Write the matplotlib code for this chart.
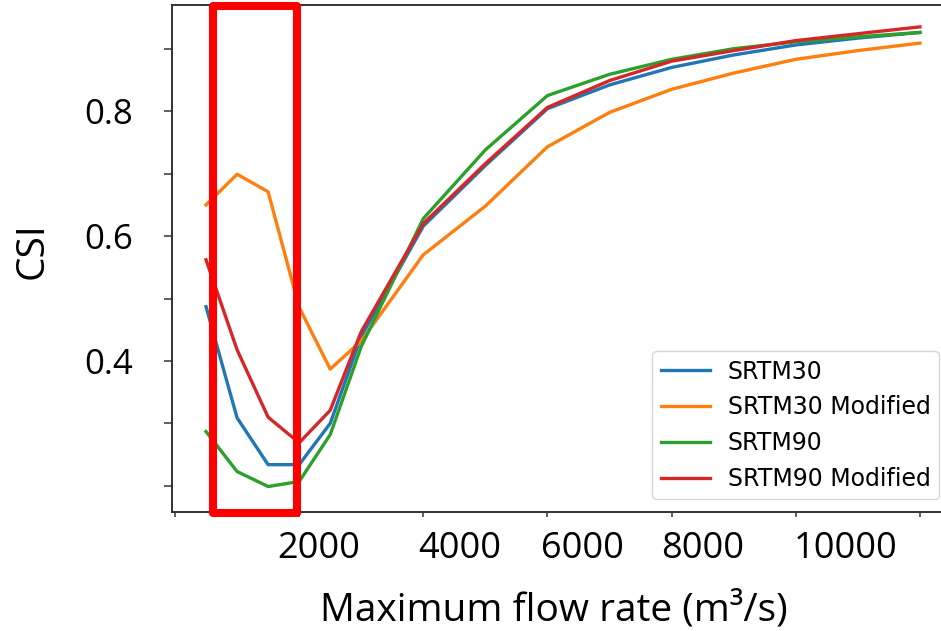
import matplotlib
matplotlib.use("Agg")
import matplotlib.pyplot as plt
from matplotlib.patches import Rectangle

# ---------------- data ----------------
flow = [500, 1000, 1500, 2000, 2500, 3000, 4000, 5000, 6000, 7000, 8000, 9000, 10000, 11000, 12000]
srtm30 = [0.487, 0.309, 0.234, 0.234, 0.300, 0.439, 0.616, 0.713, 0.804, 0.842, 0.870, 0.890, 0.906, 0.917, 0.926]
srtm30_mod = [0.650, 0.699, 0.671, 0.486, 0.387, 0.432, 0.570, 0.648, 0.743, 0.798, 0.835, 0.861, 0.883, 0.897, 0.909]
srtm90 = [0.287, 0.223, 0.199, 0.207, 0.282, 0.423, 0.628, 0.738, 0.825, 0.859, 0.883, 0.900, 0.911, 0.919, 0.926]
srtm90_mod = [0.562, 0.418, 0.310, 0.269, 0.321, 0.447, 0.620, 0.716, 0.806, 0.849, 0.880, 0.897, 0.913, 0.924, 0.935]
series_names = ["SRTM30", "SRTM30 Modified", "SRTM90", "SRTM90 Modified"]

x_ticks = [0, 2000, 4000, 6000, 8000, 10000, 12000]
x_tick_labels = ["2000", "4000", "6000", "8000", "10000"]
y_ticks = [0.2, 0.3, 0.4, 0.5, 0.6, 0.7, 0.8, 0.9]
y_tick_labels = ["", "", "0.4", "", "0.6", "", "0.8", ""]

# ---------------- layout ----------------
W, H = 941, 631
fig = plt.figure(figsize=(W / 100, H / 100), dpi=100)
ax_l, ax_r, ax_t, ax_b = 171.7, 955.6, 5.0, 511.5
ax = fig.add_axes([ax_l / W, 1 - ax_b / H, (ax_r - ax_l) / W, (ax_b - ax_t) / H])

colors = ["#1f77b4", "#ff7f0e", "#2ca02c", "#d62728"]
for vals, name, c in zip([srtm30, srtm30_mod, srtm90, srtm90_mod], series_names, colors):
    ax.plot(flow, vals, color=c, lw=2.4, label=name)

ax.set_xlim(-53, 12575)
ax.set_ylim(0.159, 0.970)

ax.set_xticks(x_ticks)
ax.set_xticklabels([""] * len(x_ticks))
ax.set_yticks(y_ticks)
ax.set_yticklabels(y_tick_labels, fontsize=25, family=["Open Sans", "DejaVu Sans"])
ax.tick_params(axis="y", length=5.8, width=1.1, color="#333333", pad=22)
ax.tick_params(axis="x", length=3.6, width=1.1, color="#333333")
for sp in ax.spines.values():
    sp.set_linewidth(1.4)
    sp.set_color("#333333")

# x tick labels as placed in the reference (offset from the tick marks)
x_label_px = [319, 460, 582, 703, 846]
for px, lab in zip(x_label_px, x_tick_labels):
    fig.text(px / W, 1 - 558 / H, lab, ha="center", va="baseline",
             fontsize=26, family=["Open Sans", "DejaVu Sans"])

ax.set_ylabel("CSI", fontsize=28, family=["Open Sans", "DejaVu Sans"], va="center")
ax.yaxis.set_label_coords((33 - ax_l) / (ax_r - ax_l), (ax_b - 250.5) / (ax_b - ax_t))
ax.set_xlabel("Maximum flow rate (m³/s)", fontsize=28, family=["Open Sans", "DejaVu Sans"], va="baseline")
ax.xaxis.set_label_coords((554 - ax_l) / (ax_r - ax_l), -(620 - ax_b) / (ax_b - ax_t))

leg = ax.legend(loc="lower right", bbox_to_anchor=(939 / W, 1 - 499.3 / H),
                bbox_transform=fig.transFigure, borderaxespad=0,
                handlelength=2.1, handletextpad=0.75, labelspacing=0.5,
                borderpad=0.35, prop={"family": "DejaVu Sans", "size": 17})

# red highlight box
rect = Rectangle((212.5 / W, 1 - 513 / H), (297 - 212.5) / W, (513 - 6.3) / H,
                 transform=fig.transFigure, fill=False, edgecolor="#ff0000",
                 lw=5.8, joinstyle="round", clip_on=False, zorder=10)
fig.add_artist(rect)

fig.savefig("out.png", dpi=100)
